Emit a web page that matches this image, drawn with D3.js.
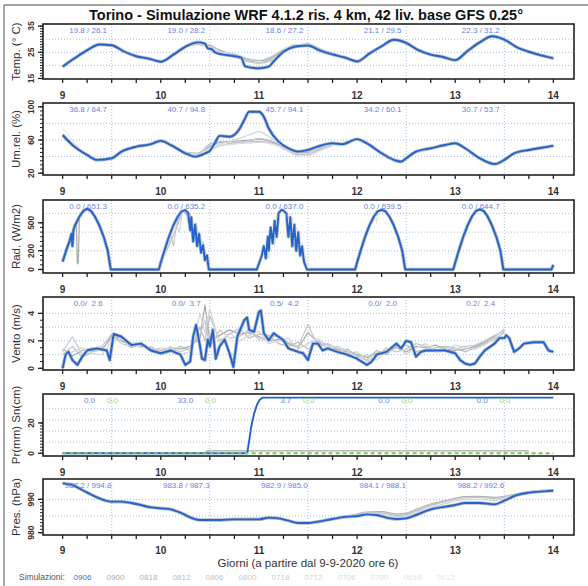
<!DOCTYPE html>
<html>
<head>
<meta charset="UTF-8" />
<title>Torino WRF</title>
<script src="https://d3js.org/d3.v7.min.js"></script>
<style>
  body { margin: 0; background: #fff; }
  text { font-family: "Liberation Sans", Arial, sans-serif; }
</style>
</head>
<body>
<script type="text/javascript">

// ---- data ----
var dayTicks = [9, 10, 11, 12, 13, 14];
var simNames = ["0906", "0900", "0818", "0812", "0806", "0800", "0718", "0712", "0706", "0700", "0618", "0612"];
var simColors = ["#4f5fdc", "#a9a9a9", "#b3b3b3", "#b9bcc2", "#c0c4c8", "#c6c9cc", "#cbd0d4", "#d2d5d8", "#d8dadc", "#dddfe1", "#e2e4e6", "#e7e8ea"];

var tempLabels = ["19.8 / 26.1", "19.0 / 28.2", "18.6 / 27.2", "21.1 / 29.5", "22.3 / 31.2"];
var humLabels  = ["36.8 / 64.7", "40.7 / 94.8", "45.7 / 94.1", "34.2 / 60.1", "30.7 / 53.7"];
var radLabels  = ["0.0 / 651.3", "0.0 / 635.2", "0.0 / 637.0", "0.0 / 639.5", "0.0 / 644.7"];
var windLabels = ["0.0/  2.6", "0.0/  3.7", "0.5/  4.2", "0.0/  2.0", "0.2/  2.4"];
var rainLabels = ["0.0", "33.0", "3.7", "0.0", "0.0"];
var snowLabels = ["0.0", "0.0", "0.0", "0.0", "0.0"];
var presLabels = ["987.2 / 994.8", "983.8 / 987.3", "982.9 / 985.0", "984.1 / 988.1", "988.2 / 992.6"];

var tempBlue = [[9.0,19.5],[9.125,22.8],[9.25,25.8],[9.375,28.0],[9.5,27.7],[9.625,25.3],[9.75,23.5],[9.875,22.6],
  [10.0,21.4],[10.125,24.0],[10.25,27.1],[10.375,28.8],[10.45,28.3],[10.48,26.5],[10.52,26.2],[10.55,25.0],[10.625,24.2],
  [10.75,23.5],[10.82,23.0],[10.86,19.6],[11.0,18.9],[11.1,19.5],[11.15,21.5],[11.25,25.2],[11.375,27.2],[11.5,27.6],
  [11.625,25.6],[11.75,24.2],[11.875,23.0],[12.0,21.5],[12.125,24.5],[12.25,27.3],[12.375,29.8],[12.5,28.6],
  [12.625,25.8],[12.75,24.1],[12.875,23.2],[13.0,22.0],[13.125,25.5],[13.25,28.8],[13.375,31.1],[13.5,29.8],
  [13.625,27.0],[13.75,25.2],[13.875,23.8],[14.0,22.7]];
var tempGrayT = [10.25, 10.375, 10.5, 10.625, 10.75, 10.875, 11.0, 11.125, 11.25, 11.375, 11.5, 11.625, 11.75];
var tempGray = [
  [27.3, 28.6, 27.5, 25.5, 24.0, 22.5, 21.8, 23.0, 25.8, 27.8, 28.0, 26.0, 24.4],
  [27.0, 28.0, 26.8, 24.6, 23.8, 22.0, 21.2, 22.4, 25.4, 27.6, 28.2, 26.3, 24.5],
  [26.8, 28.4, 27.8, 25.0, 23.2, 21.5, 20.8, 21.8, 25.0, 27.3, 27.9, 25.8, 24.3],
  [27.2, 28.9, 27.0, 24.9, 24.4, 22.8, 22.0, 23.4, 26.2, 28.0, 27.8, 25.7, 24.2]
];

var humBlue = [[9.0,66],[9.1,54],[9.25,42],[9.35,36],[9.5,38],[9.6,46],[9.75,52],[9.9,55],[10.0,59],[10.1,54],
  [10.25,44],[10.35,40],[10.45,44],[10.5,47],[10.55,56],[10.6,65],[10.7,64],[10.8,73],[10.85,84],[10.9,94],[11.0,94],
  [11.05,88],[11.1,74],[11.2,58],[11.3,50],[11.4,46],[11.5,48],[11.6,52],[11.75,56],[11.85,55],[12.0,61],[12.1,56],
  [12.25,44],[12.4,35],[12.45,34],[12.5,38],[12.6,46],[12.75,50],[12.9,54],[13.0,56],[13.1,50],[13.25,38],[13.4,31],
  [13.5,36],[13.6,44],[13.75,48],[13.9,51],[14.0,53]];
var humGrayT = [10.25, 10.375, 10.5, 10.6, 10.7, 10.8, 10.9, 11.0, 11.1, 11.2, 11.3, 11.4, 11.5, 11.6, 11.75];
var humGray = [
  [44, 42, 52, 57, 58, 59, 60, 61, 59, 55, 50, 46, 45, 49, 55],
  [45, 44, 55, 58, 56, 57, 58, 58, 57, 54, 47, 42, 42, 47, 54],
  [43, 40, 48, 53, 55, 57, 59, 62, 60, 56, 50, 44, 43, 48, 55],
  [42, 43, 50, 55, 58, 62, 66, 70, 64, 57, 48, 44, 44, 50, 56],
  [44, 41, 50, 54, 54, 56, 56, 57, 56, 52, 46, 41, 41, 46, 53]
];
var humGrayStart = [[9.0,74],[9.06,66],[9.125,56],[9.25,43]];

var radBlue = [[9.0,83],[9.04,215],[9.07,300],[9.09,380],[9.1,250],[9.11,420],[9.125,470],[9.17,565],[9.21,625],
  [9.25,651],[9.29,625],[9.33,565],[9.375,470],[9.42,345],[9.46,200],[9.49,0],[9.98,0],
  [10.0,75],[10.04,210],[10.08,340],[10.125,465],[10.17,560],[10.21,620],[10.25,635],[10.28,600],[10.3,420],[10.31,560],
  [10.33,300],[10.35,480],[10.37,250],[10.39,380],[10.41,180],[10.43,260],[10.45,100],[10.47,150],[10.49,0],[10.98,0],
  [11.0,60],[11.03,150],[11.05,250],[11.07,120],[11.09,350],[11.1,200],[11.12,450],[11.14,280],[11.16,520],[11.18,350],
  [11.2,600],[11.23,637],[11.25,630],[11.28,600],[11.3,350],[11.32,560],[11.34,250],[11.36,480],[11.38,200],[11.4,400],
  [11.42,150],[11.44,250],[11.46,80],[11.49,0],[11.98,0],
  [12.0,75],[12.04,215],[12.08,345],[12.125,470],[12.17,565],[12.21,622],[12.25,639.5],[12.29,622],[12.33,565],
  [12.375,470],[12.42,345],[12.46,200],[12.49,0],[12.98,0],
  [13.0,75],[13.04,215],[13.08,345],[13.125,470],[13.17,567],[13.21,626],[13.25,644.7],[13.29,626],[13.33,567],
  [13.375,470],[13.42,345],[13.46,200],[13.49,0],[13.98,0],[14.0,50]];
var radGray = [
  [[9.12,450],[9.14,500],[9.15,60],[9.16,80],[9.17,560]],
  [[9.97,0],[10.0,70],[10.05,180],[10.1,300],[10.15,420],[10.2,560],[10.23,640],[10.26,600],[10.29,450],[10.32,520],[10.35,300],[10.38,400],[10.41,200],[10.44,150],[10.47,60],[10.5,0]],
  [[9.97,0],[10.0,80],[10.05,240],[10.1,380],[10.13,250],[10.16,480],[10.2,590],[10.24,630],[10.27,560],[10.3,600],[10.33,380],[10.36,500],[10.4,280],[10.43,300],[10.46,120],[10.5,0]],
  [[9.97,0],[10.0,60],[10.05,200],[10.1,350],[10.15,500],[10.19,400],[10.22,610],[10.26,640],[10.3,560],[10.34,450],[10.37,350],[10.4,350],[10.43,200],[10.47,90],[10.51,0]],
  [[10.99,0],[11.02,100],[11.05,200],[11.08,300],[11.1,120],[11.13,400],[11.16,250],[11.19,560],[11.22,620],[11.25,600],[11.28,630],[11.31,450],[11.34,550],[11.37,350],[11.4,400],[11.43,250],[11.46,150],[11.5,0]],
  [[10.99,0],[11.02,80],[11.05,150],[11.08,350],[11.11,250],[11.14,480],[11.17,380],[11.2,590],[11.24,640],[11.27,580],[11.3,500],[11.33,600],[11.36,300],[11.39,450],[11.42,300],[11.45,200],[11.48,100],[11.52,0]],
  [[10.99,0],[11.02,120],[11.06,250],[11.09,180],[11.12,380],[11.15,500],[11.18,450],[11.21,600],[11.25,630],[11.29,560],[11.32,400],[11.35,500],[11.38,380],[11.41,250],[11.44,300],[11.47,120],[11.51,0]],
  [[12.18,600],[12.2,500],[12.22,615]]
];

var windBlue = [[9.0,0.0],[9.03,1.0],[9.06,1.2],[9.1,0.6],[9.15,0.25],[9.2,0.85],[9.25,1.3],[9.35,1.45],[9.45,1.3],
  [9.48,0.6],[9.52,2.5],[9.6,2.3],[9.7,1.7],[9.8,1.8],[9.9,1.3],[10.0,1.1],[10.1,1.3],[10.2,1.0],[10.25,0.25],[10.3,0.5],
  [10.33,2.3],[10.36,3.15],[10.4,1.6],[10.42,0.7],[10.45,0.6],[10.48,2.1],[10.5,1.6],[10.53,2.8],[10.56,0.7],[10.6,1.6],
  [10.65,2.1],[10.7,1.1],[10.74,0.1],[10.78,2.3],[10.85,3.5],[10.88,3.7],[10.9,2.8],[10.95,2.65],[11.0,4.1],[11.02,4.2],
  [11.05,2.55],[11.1,2.05],[11.15,2.55],[11.2,2.3],[11.25,2.05],[11.3,1.45],[11.4,1.2],[11.45,1.1],[11.5,0.6],[11.55,1.8],
  [11.6,1.8],[11.65,1.3],[11.7,1.45],[11.8,1.2],[11.9,1.0],[12.0,0.7],[12.1,0.25],[12.15,0.5],[12.2,1.0],[12.3,1.2],
  [12.4,1.8],[12.45,1.45],[12.5,2.0],[12.55,1.9],[12.6,0.85],[12.65,1.2],[12.7,1.3],[12.8,1.3],[12.9,1.3],[13.0,1.1],
  [13.05,0.6],[13.1,0.35],[13.15,0.25],[13.2,0.35],[13.25,0.85],[13.3,1.3],[13.4,1.8],[13.45,2.2],[13.5,2.2],[13.52,2.4],
  [13.55,2.2],[13.6,1.2],[13.65,1.45],[13.7,1.8],[13.8,1.9],[13.9,1.9],[13.95,1.3],[14.0,1.2]];
var windGrayT = [9.0,9.1,9.2,9.3,9.4,9.5,9.6,9.7,9.8,9.9,10.0,10.1,10.2,10.3,10.4,10.45,10.5,10.6,10.7,10.8,10.9,
  11.0,11.1,11.2,11.3,11.4,11.5,11.6,11.7,11.8,11.9,12.0,12.1,12.2,12.3,12.4,12.5,12.6,12.7,12.8,12.9,13.0,13.1,13.2,13.3,13.4,13.5];
var windGray = [
  [1.4,0.9,1.3,1.5,1.3,2.4,2.0,1.7,1.6,1.4,1.3,1.5,1.4,1.6,2.2,4.6,2.0,2.4,2.8,2.5,2.6,2.3,2.0,2.1,1.8,1.5,2.6,1.9,1.5,1.4,1.2,1.0,0.8,1.1,1.3,1.5,1.2,1.6,1.5,1.7,1.4,1.3,1.4,1.6,1.9,2.3,2.8],
  [1.0,1.6,0.8,1.2,1.4,2.2,2.3,1.5,1.8,1.5,1.0,1.2,1.6,1.3,3.0,2.0,3.8,2.0,2.5,2.9,2.2,2.5,2.4,1.8,1.6,1.9,1.4,2.0,1.7,1.2,1.4,0.9,0.6,1.3,1.0,1.6,1.7,1.2,1.4,1.5,1.6,1.5,1.2,1.5,1.8,2.1,2.6],
  [1.2,2.3,1.0,1.4,1.6,2.5,1.8,1.6,1.7,1.2,1.5,1.4,1.2,1.5,2.5,3.5,1.5,2.8,2.2,2.3,2.8,2.1,2.2,2.4,1.9,1.6,3.2,1.6,1.8,1.5,1.1,1.2,0.5,0.9,1.5,1.2,1.4,1.8,1.6,1.3,1.5,1.4,1.6,1.7,2.0,2.4,2.7],
  [0.8,1.2,1.5,1.1,1.0,2.0,2.1,1.9,1.5,1.6,1.2,1.6,1.0,1.2,4.0,2.6,4.3,1.8,2.6,2.0,2.4,2.7,1.8,2.0,2.2,1.4,1.8,2.2,1.4,1.6,1.3,0.7,1.0,0.6,1.2,1.8,1.0,1.5,1.8,1.2,1.3,1.7,1.5,1.4,1.7,2.2,2.9]
];

var rainBlue = [[9.0,0],[10.88,0],[10.9,8],[10.92,17],[10.95,26],[10.98,32],[11.01,35.5],[11.04,36.7],[14.0,36.7]];
var rainGray = [[9.0,0],[10.43,0],[10.48,1.6],[13.75,1.6]];
var snowBlue = [[9.0,0],[14.0,0]];

var presBlue = [[9.0,994.8],[9.1,994.3],[9.2,992.8],[9.3,991.3],[9.4,990.0],[9.5,989.3],[9.6,989.3],[9.75,988.6],
  [9.9,987.6],[10.0,987.3],[10.1,987.0],[10.2,986.0],[10.3,984.6],[10.4,983.8],[10.5,983.8],[10.6,983.8],[10.75,984.0],
  [10.9,984.0],[11.0,984.0],[11.1,984.5],[11.2,984.3],[11.3,983.6],[11.4,982.9],[11.5,982.9],[11.6,983.3],[11.75,984.1],
  [11.9,984.8],[12.0,985.0],[12.1,985.5],[12.2,985.3],[12.3,984.5],[12.4,984.1],[12.5,984.3],[12.6,985.3],[12.75,987.0],
  [12.9,987.8],[13.0,988.3],[13.1,988.9],[13.25,988.9],[13.4,988.5],[13.5,989.6],[13.6,991.0],[13.75,992.0],
  [13.9,992.4],[14.0,992.6]];
var presGrayT = [11.75, 12.0, 12.1, 12.25, 12.4, 12.5, 12.6, 12.75, 12.9, 13.0, 13.1, 13.25, 13.4, 13.5, 13.6, 13.75];
var presGray = [
  [984.3, 985.6, 986.2, 986.3, 985.6, 985.8, 987.0, 988.6, 989.6, 990.3, 990.8, 990.9, 990.6, 990.9, 991.5, 992.1],
  [984.2, 985.4, 985.9, 985.9, 985.2, 985.4, 986.5, 988.2, 989.3, 990.0, 990.5, 990.6, 990.2, 990.6, 991.3, 992.0],
  [984.3, 985.5, 986.0, 986.1, 985.4, 985.6, 986.8, 988.4, 989.4, 990.1, 990.6, 990.7, 990.4, 990.7, 991.4, 992.05],
  [984.2, 985.3, 985.7, 985.6, 984.8, 985.0, 986.1, 987.7, 988.7, 989.5, 989.9, 990.0, 989.6, 990.2, 991.2, 992.0]
];

// ---- layout ----
var width = 588, height = 586;
var blue = "#2364cc", labelBlue = "#6b80e6", labelGreen = "#9ad47e", gridCol = "#9fc0e4";

var svg = d3.select("body").append("svg")
  .attr("width", width).attr("height", height);

// outer frame lines
svg.append("line").attr("x1", 4).attr("y1", 5).attr("x2", width).attr("y2", 5)
  .attr("stroke", "#444").attr("stroke-width", 1);
svg.append("line").attr("x1", 4).attr("y1", 5).attr("x2", 4).attr("y2", height)
  .attr("stroke", "#888").attr("stroke-width", 1.5);

svg.append("text").attr("x", 306).attr("y", 20).attr("text-anchor", "middle")
  .attr("font-size", 14.5).attr("font-weight", "bold").attr("fill", "#111")
  .text("Torino - Simulazione WRF 4.1.2 ris. 4 km, 42 liv. base GFS 0.25°");

var x = d3.scaleLinear().domain([8.8, 14.21]).range([43, 574]);
var quarterTicks = d3.range(9, 14.001, 0.25);
var halfDays = [9.5, 10.5, 11.5, 12.5, 13.5];

function zipT(ts, vs) { return ts.map(function (t, i) { return [t, vs[i]]; }); }

var panels = [
  { title: "Temp. (° C)", top: 24, bottom: 79, domain: [14.8, 35.8], ticks: [15, 25, 35], minor: 1,
    grid: [20, 25, 30], labels: tempLabels, blue: tempBlue, grays: tempGray.map(function (g) { return zipT(tempGrayT, g); }) },
  { title: "Um.rel. (%)", top: 103, bottom: 175, domain: [17.8, 104.6], ticks: [20, 60, 100], minor: 5,
    grid: [40, 60, 80], labels: humLabels, blue: humBlue,
    grays: humGray.map(function (g) { return zipT(humGrayT, g); }).concat([humGrayStart]) },
  { title: "Rad. (W/m2)", top: 200, bottom: 273, domain: [-38, 744], ticks: [0, 200, 500], minor: 50,
    grid: [200, 400, 600], labels: radLabels, blue: radBlue, grays: radGray },
  { title: "Vento (m/s)", top: 297, bottom: 370, domain: [-0.12, 5.19], ticks: [0, 2, 4], minor: 0.5,
    grid: [1, 2, 3, 4], labels: windLabels, blue: windBlue, grays: windGray.map(function (g) { return zipT(windGrayT, g); }) },
  { title: "Pr(mm) Sn(cm)", top: 394, bottom: 456, domain: [-1.8, 39.1], ticks: [0, 20], minor: 2,
    grid: [7.3, 14.7, 22.0, 29.4], labels: null, blue: rainBlue, grays: [rainGray] },
  { title: "Pres. (hPa)", top: 479, bottom: 535, domain: [979.3, 996.1], ticks: [980, 990], minor: 1,
    grid: [985, 990], labels: presLabels, blue: presBlue, grays: presGray.map(function (g) { return zipT(presGrayT, g); }) }
];

panels.forEach(function (p, pi) {
  var y = d3.scaleLinear().domain(p.domain).range([p.bottom, p.top]);
  var g = svg.append("g");
  var x0 = x.range()[0], x1 = x.range()[1];

  g.append("defs").append("clipPath").attr("id", "clip" + pi)
    .append("rect").attr("x", x0).attr("y", p.top).attr("width", x1 - x0).attr("height", p.bottom - p.top);

  // grid
  g.selectAll(".hg").data(p.grid).enter().append("line")
    .attr("x1", x0).attr("x2", x1).attr("y1", function (d) { return y(d); }).attr("y2", function (d) { return y(d); })
    .attr("stroke", gridCol).attr("stroke-width", 1).attr("stroke-dasharray", "1,2");
  g.selectAll(".vg").data(halfDays).enter().append("line")
    .attr("y1", p.top).attr("y2", p.bottom).attr("x1", function (d) { return x(d); }).attr("x2", function (d) { return x(d); })
    .attr("stroke", gridCol).attr("stroke-width", 1).attr("stroke-dasharray", "1,2");

  var line = d3.line().x(function (d) { return x(d[0]); }).y(function (d) { return y(d[1]); });
  var smooth = d3.line().curve(d3.curveMonotoneX).x(function (d) { return x(d[0]); }).y(function (d) { return y(d[1]); });
  var lf = (pi === 2 || pi === 3 || pi === 4) ? line : smooth;

  var plot = g.append("g").attr("clip-path", "url(#clip" + pi + ")");
  // shadow of the ensemble members overlapping the reference run
  if (pi !== 4) {
    plot.append("path").datum(p.blue).attr("d", lf).attr("fill", "none")
      .attr("stroke", "#b8bcc4").attr("stroke-width", 3.5).attr("stroke-linejoin", "round");
  }
  p.grays.forEach(function (s, si) {
    plot.append("path").datum(s).attr("d", lf).attr("fill", "none")
      .attr("stroke", simColors[Math.min(1 + si * 2, simColors.length - 1)])
      .attr("stroke-width", 1.2).attr("stroke-linejoin", "round");
  });
  plot.append("path").datum(p.blue).attr("d", lf).attr("fill", "none")
    .attr("stroke", blue).attr("stroke-width", 1.9).attr("stroke-linejoin", "round");
  if (pi === 4) {
    plot.append("path").datum(snowBlue).attr("d", line).attr("fill", "none")
      .attr("stroke", "#7cc35a").attr("stroke-width", 2).attr("stroke-dasharray", "4,3");
  }

  // frame
  g.append("rect").attr("x", x0).attr("y", p.top).attr("width", x1 - x0).attr("height", p.bottom - p.top)
    .attr("fill", "none").attr("stroke", "#222").attr("stroke-width", 1.6);

  // x ticks
  g.selectAll(".xt").data(quarterTicks).enter().append("line")
    .attr("x1", function (d) { return x(d); }).attr("x2", function (d) { return x(d); })
    .attr("y1", p.bottom).attr("y2", p.bottom + 4).attr("stroke", "#222").attr("stroke-width", 1.3);
  g.selectAll(".xl").data(dayTicks).enter().append("text")
    .attr("x", function (d) { return x(d); }).attr("y", p.bottom + (pi === 5 ? 19 : 20)).attr("text-anchor", "middle")
    .attr("font-size", 10).attr("font-weight", "bold").attr("fill", "#333").text(function (d) { return d; });

  // y ticks
  var minorTicks = d3.range(p.ticks[0], p.ticks[p.ticks.length - 1] + p.minor / 2, p.minor);
  g.selectAll(".ym").data(minorTicks).enter().append("line")
    .attr("x1", x0 - 3).attr("x2", x0).attr("y1", function (d) { return y(d); }).attr("y2", function (d) { return y(d); })
    .attr("stroke", "#222").attr("stroke-width", 1);
  g.selectAll(".yM").data(p.ticks).enter().append("line")
    .attr("x1", x0 - 5).attr("x2", x0).attr("y1", function (d) { return y(d); }).attr("y2", function (d) { return y(d); })
    .attr("stroke", "#222").attr("stroke-width", 1.3);
  g.selectAll(".yl").data(p.ticks).enter().append("text")
    .attr("transform", function (d) { return "translate(" + (x0 - 9) + "," + y(d) + ") rotate(-90)"; })
    .attr("text-anchor", "middle").attr("font-size", 8.5).attr("font-weight", "bold").attr("fill", "#333")
    .text(function (d) { return d; });
  g.append("text")
    .attr("transform", "translate(20," + ((p.top + p.bottom) / 2) + ") rotate(-90)")
    .attr("text-anchor", "middle").attr("font-size", 11.5).attr("fill", "#333").text(p.title);

  // daily min / max labels
  var days5 = dayTicks.slice(0, 5);
  if (p.labels) {
    g.selectAll(".dl").data(days5).enter().append("text")
      .attr("x", function (d) { return x(d + 0.26); }).attr("y", p.top + 8.5).attr("text-anchor", "middle")
      .attr("font-size", 8).attr("fill", labelBlue).attr("xml:space", "preserve")
      .text(function (d, i) { return p.labels[i]; });
  } else {
    g.selectAll(".rl").data(days5).enter().append("text")
      .attr("x", function (d) { return x(d + 0.33); }).attr("y", p.top + 8.5).attr("text-anchor", "end")
      .attr("font-size", 8).attr("fill", labelBlue).text(function (d, i) { return rainLabels[i]; });
    g.selectAll(".sl").data(days5).enter().append("text")
      .attr("x", function (d) { return x(d + 0.45); }).attr("y", p.top + 8.5).attr("text-anchor", "start")
      .attr("font-size", 8).attr("fill", labelGreen).text(function (d, i) { return snowLabels[i]; });
  }
});

svg.append("text").attr("x", 308).attr("y", 567).attr("text-anchor", "middle")
  .attr("font-size", 11.5).attr("fill", "#333").text("Giorni (a partire dal 9-9-2020 ore 6)");

// legend
svg.append("text").attr("x", 19).attr("y", 580).attr("font-size", 8.5).attr("fill", "#555").text("Simulazioni:");
var legX = d3.scaleLinear().domain([0, simNames.length - 1]).range([82.5, 445.5]);
svg.selectAll(".leg").data(simNames).enter().append("text")
  .attr("x", function (d, i) { return legX(i); }).attr("y", 580).attr("text-anchor", "middle")
  .attr("font-size", 8).attr("fill", function (d, i) { return simColors[i]; }).text(function (d) { return d; });

</script>
</body>
</html>
